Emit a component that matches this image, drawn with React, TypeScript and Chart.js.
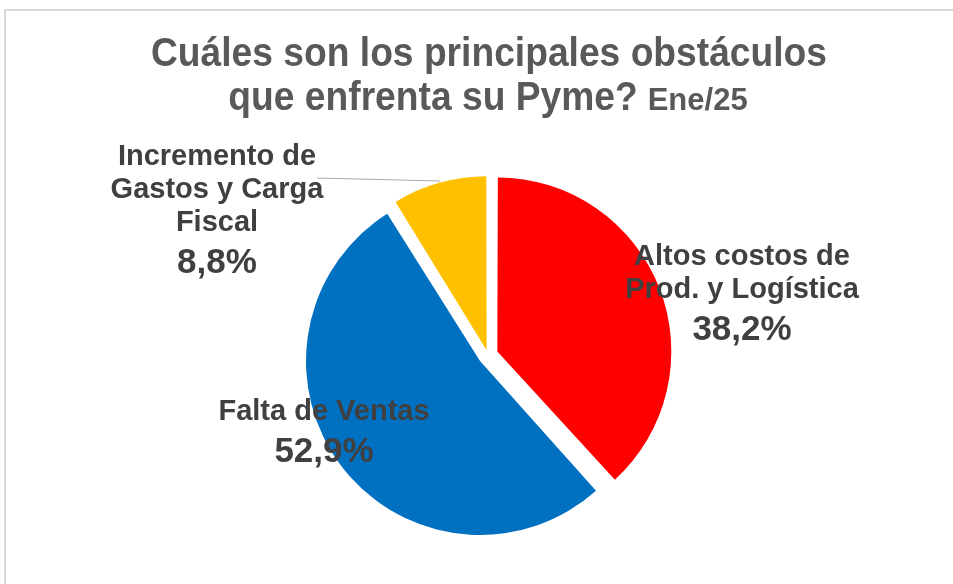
import React, { useEffect, useRef } from "react";
import { Chart, registerables } from "chart.js";

Chart.register(...registerables);

const categories = [
  "Altos costos de Prod. y Logística",
  "Falta de Ventas",
  "Incremento de Gastos y Carga Fiscal",
];
const labelLines = [
  ["Altos costos de", "Prod. y Logística"],
  ["Falta de Ventas"],
  ["Incremento de", "Gastos y Carga", "Fiscal"],
];
const values = [38.2, 52.9, 8.8];
const colors = ["#FF0000", "#0070C0", "#FFC000"];
const explode = [40, 40, 20];
const titleLine1 = "Cuáles son los principales obstáculos";
const titleLine2 = "que enfrenta su Pyme?";
const titleSuffix = "Ene/25";

// label anchors relative to pie centre (first baseline)
const labelAnchors = [
  { dx: 254, dy: -90 },
  { dx: -164, dy: 65 },
  { dx: -271, dy: -190 },
];

const fmtPct = (v: number) => v.toFixed(1).replace(".", ",") + "%";

const explodeFix = {
  id: "explodeFix",
  afterDatasetUpdate(chart: any, args: any) {
    const meta = chart.getDatasetMeta(args.index);
    meta.data.forEach((arc: any) => {
      const off = ((arc.options && arc.options.offset) || 0) / 4;
      const c = arc.circumference || 0;
      const fix = 1 - Math.sin(Math.min(Math.PI, c));
      arc.outerRadius = arc.outerRadius - off * fix;
    });
  },
};

const labelsPlugin = {
  id: "pieLabels",
  afterDatasetsDraw(chart: any) {
    const ctx = chart.ctx;
    const meta = chart.getDatasetMeta(0);
    const arc0 = meta.data[0];
    if (!arc0) return;
    const cx = arc0.x;
    const cy = arc0.y;
    ctx.save();
    // leader line for small slice
    ctx.strokeStyle = "#a6a6a6";
    ctx.lineWidth = 1;
    ctx.beginPath();
    ctx.moveTo(cx - 171, cy - 177);
    ctx.lineTo(cx - 48, cy - 174);
    ctx.stroke();

    ctx.fillStyle = "#404040";
    ctx.textAlign = "center";
    ctx.textBaseline = "alphabetic";
    labelLines.forEach((lines, i) => {
      const a = labelAnchors[i];
      let y = cy + a.dy;
      const x = cx + a.dx;
      ctx.font = "bold 29px 'Liberation Sans', Arial, sans-serif";
      lines.forEach((ln, k) => {
        if (k > 0) y += 33;
        ctx.fillText(ln, x, y);
      });
      y += 42;
      ctx.font = "bold 35px 'Liberation Sans', Arial, sans-serif";
      ctx.fillText(fmtPct(values[i]), x, y);
    });
    ctx.restore();
  },
  afterDraw(chart: any) {
    const ctx = chart.ctx;
    ctx.save();
    ctx.fillStyle = "#595959";
    ctx.textBaseline = "alphabetic";
    const sx = 0.93;
    const centerX = 489;
    // line 1
    ctx.font = "bold 40px 'Liberation Sans', Arial, sans-serif";
    ctx.textAlign = "center";
    ctx.save();
    ctx.translate(centerX, 66);
    ctx.scale(sx, 1);
    ctx.fillText(titleLine1, 0, 0);
    ctx.restore();
    // line 2
    ctx.textAlign = "left";
    ctx.font = "bold 40px 'Liberation Sans', Arial, sans-serif";
    const w1 = ctx.measureText(titleLine2).width * sx;
    ctx.font = "bold 31px 'Liberation Sans', Arial, sans-serif";
    const w2 = ctx.measureText(titleSuffix).width;
    const gap = 10;
    const start = 488 - (w1 + gap + w2) / 2;
    ctx.save();
    ctx.translate(start, 110);
    ctx.scale(sx, 1);
    ctx.font = "bold 40px 'Liberation Sans', Arial, sans-serif";
    ctx.fillText(titleLine2, 0, 0);
    ctx.restore();
    ctx.font = "bold 31px 'Liberation Sans', Arial, sans-serif";
    ctx.fillText(titleSuffix, start + w1 + gap, 110);
    ctx.restore();
  },
};

export default function App() {
  const ref = useRef<HTMLCanvasElement | null>(null);
  useEffect(() => {
    if (!ref.current) return;
    const chart = new Chart(ref.current, {
      type: "pie",
      data: {
        labels: categories,
        datasets: [
          {
            data: values,
            backgroundColor: colors,
            borderWidth: 0,
            offset: explode,
            radius: 174,
          } as any,
        ],
      },
      options: {
        responsive: false,
        animation: false,
        devicePixelRatio: 1,
        layout: { padding: { left: 23, right: 0, top: 152, bottom: 26 } },
        plugins: {
          legend: { display: false },
          title: { display: false },
          tooltip: { enabled: false },
        },
      } as any,
      plugins: [explodeFix, labelsPlugin],
    });
    return () => chart.destroy();
  }, []);
  return (
    <div
      style={{
        position: "fixed",
        left: 0,
        top: 0,
        width: 953,
        height: 584,
        background: "#fff",
        overflow: "hidden",
      }}
    >
      <div
        style={{
          position: "absolute",
          left: 4,
          top: 9,
          width: 1100,
          height: 800,
          borderTop: "2px solid #d9d9d9",
          borderLeft: "2px solid #d9d9d9",
        }}
      />
      <canvas
        ref={ref}
        width={953}
        height={584}
        style={{ position: "absolute", left: 0, top: 0, width: 953, height: 584 }}
      />
    </div>
  );
}
